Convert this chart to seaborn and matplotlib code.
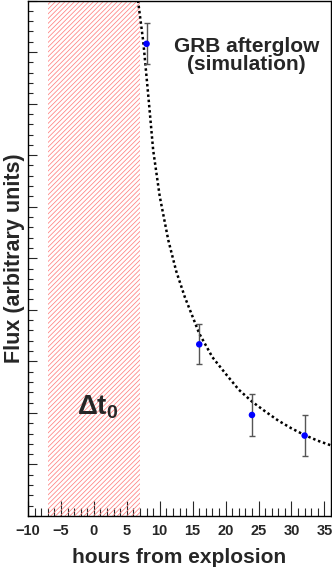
import numpy as np
import pandas as pd
import matplotlib
matplotlib.use("Agg")
import matplotlib.pyplot as plt
from matplotlib.ticker import MultipleLocator, NullFormatter
import seaborn as sns

# Measured points (hours, flux) with errors
hours = [8, 16, 24, 32]
flux = [9.16, 3.33, 1.96, 1.56]
flux_err = [0.4, 0.39, 0.4, 0.4]

# Model curve
curve_hours = [6.7, 7.5, 8.3, 9.0, 10.0, 11.3, 12.5, 13.8, 16.0, 18.0, 20.0,
               22.0, 24.0, 26.0, 28.0, 30.0, 32.0, 34.0, 36.0]
curve_flux = [10.0, 9.2, 8.1, 7.1, 6.2, 5.35, 4.75, 4.25, 3.54, 3.08, 2.76,
              2.45, 2.22, 2.03, 1.85, 1.70, 1.57, 1.46, 1.37]

# Delta t0 window
window = (-7, 7)

pts = pd.DataFrame({"hours": hours, "flux": flux})
model = pd.DataFrame({"hours": curve_hours, "flux": curve_flux})

sns.set_style("ticks")
plt.rcParams["font.family"] = ["Liberation Sans", "DejaVu Sans"]
plt.rcParams["font.weight"] = "bold"
plt.rcParams["mathtext.fontset"] = "custom"
plt.rcParams["mathtext.rm"] = "Liberation Sans:bold"
plt.rcParams["mathtext.it"] = "Liberation Sans:bold"
plt.rcParams["mathtext.bf"] = "Liberation Sans:bold"
plt.rcParams["hatch.linewidth"] = 0.55

fig = plt.figure(figsize=(3.32, 5.72), dpi=100)
ax = fig.add_axes([28 / 332, 56 / 572, 303 / 332, 515.5 / 572])

# hatched window
ax.axvspan(window[0], window[1], facecolor="none", edgecolor="#ff8080",
           hatch="///////", linewidth=0)

sns.lineplot(data=model, x="hours", y="flux", ax=ax, color="black",
             linewidth=1.8, linestyle=(0, (1, 1.1)), sort=False)

ax.errorbar(hours, flux, yerr=flux_err, fmt="none", ecolor="#555555",
            elinewidth=1, capsize=2, capthick=1)
sns.scatterplot(data=pts, x="hours", y="flux", ax=ax, color="blue", s=22,
                edgecolor="none", zorder=5)

ax.set_xlim(-10, 36)
ax.set_ylim(0, 10)
ax.xaxis.set_major_locator(MultipleLocator(5))
ax.xaxis.set_minor_locator(MultipleLocator(1))
ax.yaxis.set_major_locator(MultipleLocator(1))
ax.yaxis.set_minor_locator(MultipleLocator(0.2))
ax.yaxis.set_major_formatter(NullFormatter())
ax.tick_params(axis="x", which="major", direction="in", length=11, width=0.8,
               labelsize=10.5, pad=6)
ax.tick_params(axis="x", which="minor", direction="in", length=5.5, width=0.8)
ax.tick_params(axis="y", which="major", direction="in", length=6.5, width=0.8)
ax.tick_params(axis="y", which="minor", direction="in", length=3.5, width=0.8)
for lab in ax.get_xticklabels():
    lab.set_fontweight("bold")
for s in ax.spines.values():
    s.set_linewidth(1)
    s.set_color("black")

ax.set_xlabel("hours from explosion", fontsize=15, fontweight="bold", labelpad=7)
ax.set_ylabel("Flux (arbitrary units)", fontsize=15.5, fontweight="bold", labelpad=-1)

ax.text(0.722, 0.893, "GRB afterglow\n(simulation)", transform=ax.transAxes,
        ha="center", va="center", fontsize=15, fontweight="bold", linespacing=0.95)
ax.text(0.5, 2.1, r"$\Delta t_0$", ha="center", va="center", fontsize=20)

fig.savefig("out.png", dpi=100)
